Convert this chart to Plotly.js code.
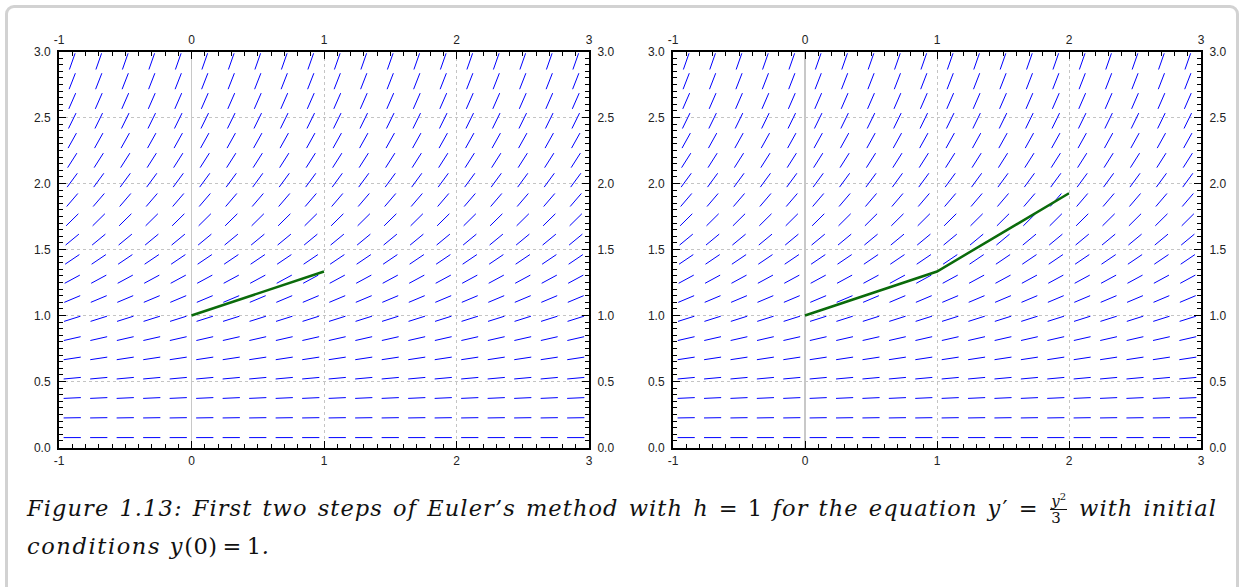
<!DOCTYPE html>
<html>
<head>
<meta charset="utf-8">
<script src="https://cdn.plot.ly/plotly-3.0.1.min.js"></script>
<style>
  html, body { margin:0; padding:0; background:#fff; width:1244px; height:587px; overflow:hidden; }
  #frame { position:absolute; left:5px; top:5px; width:1234px; height:620px; border:3px solid #d2d2d2; border-radius:9px; box-sizing:border-box; }
  #chart { position:absolute; left:0; top:0; width:1244px; height:587px; }
  #caption { position:absolute; left:27px; top:491px; width:1190px; font-family:"DejaVu Serif","Liberation Serif",serif; font-style:italic; font-size:22.5px; letter-spacing:1.1px; line-height:35px; color:#111; }
  #cap1 { white-space:nowrap; text-align:justify; text-align-last:justify; width:1190px; }
  #cap2 { white-space:nowrap; text-align:left; letter-spacing:1.6px; }
  .up { font-style:normal; letter-spacing:0.5px; }
  .pr { font-style:normal; margin-left:1px; }
  .frac { display:inline-block; vertical-align:middle; text-align:center; font-size:15px; line-height:16px; letter-spacing:0; margin:0 2px; position:relative; top:-3px; }
  .frac .num { display:block; padding:0 1px; }
  .frac .den { display:block; border-top:1px solid #111; font-style:normal; padding:0 1px; }
</style>
</head>
<body>
<div id="frame"></div>
<div id="chart"></div>
<div id="caption"><div id="cap1">Figure 1.13: First two steps of Euler’s method with <i>h</i> <span class="up">= 1</span> for the equation <i>y</i><span class="pr">′</span> <span class="up">=</span> <span class="frac"><span class="num"><i>y</i><sup style="font-size:10px;font-style:normal">2</sup></span><span class="den">3</span></span> with initial</div><div id="cap2">conditions <i>y</i><span class="up">(0)&#8201;=&#8201;1</span>.</div></div>
<script>
// ---- data ----
var xRange = [-1, 3];
var yRange = [0, 3];
var xTickVals = [-1, 0, 1, 2, 3];
var xTickText = ["-1", "0", "1", "2", "3"];
var yTickVals = [0, 0.5, 1, 1.5, 2, 2.5, 3];
var yTickText = ["0.0", "0.5", "1.0", "1.5", "2.0", "2.5", "3.0"];
// slope-field sample points
var fieldX = [-0.9, -0.7, -0.5, -0.3, -0.1, 0.1, 0.3, 0.5, 0.7, 0.9, 1.1, 1.3, 1.5, 1.7, 1.9, 2.1, 2.3, 2.5, 2.7, 2.9];
var fieldY = [0.075, 0.225, 0.375, 0.525, 0.675, 0.825, 0.975, 1.125, 1.275, 1.425, 1.575, 1.725, 1.875, 2.025, 2.175, 2.325, 2.475, 2.625, 2.775, 2.925];
// Euler steps (h = 1) for y' = y^2/3, y(0)=1
var eulerLeftX = [0, 1];
var eulerLeftY = [1, 1.3333];
var eulerRightX = [0, 1, 2];
var eulerRightY = [1, 1.3333, 1.9259];

function slope(y) { return y * y / 3; }

function fieldTrace(xa, ya) {
  var segLen = 0.13;
  var xs = [], ys = [];
  for (var i = 0; i < fieldX.length; i++) {
    for (var j = 0; j < fieldY.length; j++) {
      var m = slope(fieldY[j]);
      var n = Math.sqrt(1 + m * m);
      var dx = segLen / 2 / n, dy = segLen / 2 * m / n;
      xs.push(fieldX[i] - dx, fieldX[i] + dx, null);
      ys.push(fieldY[j] - dy, fieldY[j] + dy, null);
    }
  }
  return { type:'scatter', mode:'lines', x:xs, y:ys, xaxis:xa, yaxis:ya,
           line:{color:'#0000ff', width:1}, hoverinfo:'skip', showlegend:false, connectgaps:false };
}
function eulerTrace(x, y, xa, ya) {
  return { type:'scatter', mode:'lines', x:x, y:y, xaxis:xa, yaxis:ya,
           line:{color:'#0b6b0b', width:2.5}, hoverinfo:'skip', showlegend:false };
}
function ghostTrace(xa, ya) {
  return { type:'scatter', mode:'markers', x:[1], y:[1], xaxis:xa, yaxis:ya,
           marker:{opacity:0, size:1}, hoverinfo:'skip', showlegend:false };
}

var W = 1244, H = 587;
function px(a, b) { return [a / W, b / W]; }
function py(top, bottom) { return [1 - bottom / H, 1 - top / H]; }

var tickFont = { family:'"Liberation Sans", Arial, sans-serif', size:12, color:'#222' };

function xAxis(domain, anchor, side, overlay) {
  var a = {
    domain: domain, anchor: anchor, side: side, range: xRange, autorange:false, fixedrange:true,
    tickmode:'array', tickvals:xTickVals, ticktext:xTickText,
    ticks:'inside', ticklen:7, tickwidth:1, tickcolor:'#000',
    minor:{ dtick:0.1, tick0:-1, ticks:'inside', ticklen:4, tickwidth:1, tickcolor:'#000', showgrid:false },
    showline:true, linewidth:2, linecolor:'#000', mirror:false,
    tickfont: tickFont, ticklabelstandoff: 1
  };
  if (overlay) {
    a.overlaying = overlay; a.showgrid = false; a.zeroline = false;
  } else {
    a.showgrid = true; a.gridcolor = '#c4c4c4'; a.griddash = 'dot'; a.gridwidth = 1;
    a.zeroline = true; a.zerolinecolor = '#c8c8c8'; a.zerolinewidth = 1.2;
  }
  return a;
}
function yAxis(domain, anchor, side, overlay) {
  var a = {
    domain: domain, anchor: anchor, side: side, range: yRange, autorange:false, fixedrange:true,
    tickmode:'array', tickvals:yTickVals, ticktext:yTickText,
    ticks:'inside', ticklen:7, tickwidth:1, tickcolor:'#000',
    minor:{ dtick:0.05, tick0:0, ticks:'inside', ticklen:4, tickwidth:1, tickcolor:'#000', showgrid:false },
    showline:true, linewidth:2, linecolor:'#000', mirror:false,
    tickfont: tickFont, zeroline:false, ticklabelstandoff: 4
  };
  if (overlay) {
    a.overlaying = overlay; a.showgrid = false;
  } else {
    a.showgrid = true; a.gridcolor = '#c4c4c4'; a.griddash = 'dot'; a.gridwidth = 1;
  }
  return a;
}

var dY = py(51.5, 447.5);
var dL = px(59, 589);
var dR = px(673, 1201);

var data = [
  fieldTrace('x', 'y'),
  eulerTrace(eulerLeftX, eulerLeftY, 'x', 'y'),
  ghostTrace('x2', 'y2'),
  fieldTrace('x3', 'y3'),
  eulerTrace(eulerRightX, eulerRightY, 'x3', 'y3'),
  ghostTrace('x4', 'y4')
];

var layout = {
  width: W, height: H,
  margin:{l:0, r:0, t:0, b:0},
  paper_bgcolor:'rgba(0,0,0,0)', plot_bgcolor:'rgba(0,0,0,0)',
  showlegend:false,
  xaxis: xAxis(dL, 'y', 'bottom'),
  yaxis: yAxis(dY, 'x', 'left'),
  xaxis2: xAxis(dL, 'y2', 'top', 'x'),
  yaxis2: yAxis(dY, 'x2', 'right', 'y'),
  xaxis3: xAxis(dR, 'y3', 'bottom'),
  yaxis3: yAxis(dY, 'x3', 'left'),
  xaxis4: xAxis(dR, 'y4', 'top', 'x3'),
  yaxis4: yAxis(dY, 'x4', 'right', 'y3')
};

Plotly.newPlot('chart', data, layout, {staticPlot:true, displayModeBar:false});
</script>
</body>
</html>
